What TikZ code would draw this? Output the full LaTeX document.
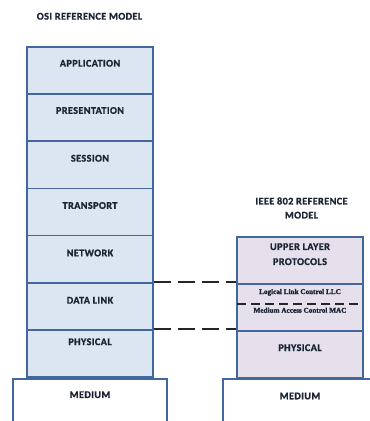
\documentclass[tikz,border=0pt]{standalone}
\usepackage{fontspec}
\setmainfont{Carlito}[LetterSpace=4, BoldFeatures={FakeBold=1.2}]
\newfontfamily\smallserif{Liberation Serif}[BoldFeatures={FakeBold=1.5}]
\definecolor{edge}{HTML}{41679C}
\definecolor{osifill}{HTML}{DCE6F2}
\definecolor{ieeefill}{HTML}{E5E0EC}
\definecolor{ink}{HTML}{1A2433}
\begin{document}
\begin{tikzpicture}[x=1pt,y=-1pt,
  layer/.style={draw=edge, line width=1.6pt, inner sep=0pt, minimum width=126pt},
  osilayer/.style={layer, fill=osifill, minimum height=47.2pt},
  lbl/.style={font=\fontsize{10.2}{11}\selectfont\bfseries, text=ink, inner sep=0pt},
  ttl/.style={font=\fontsize{10.2}{14}\selectfont\bfseries, text=ink, inner sep=0pt, align=center},
  sub/.style={font=\smallserif\fontsize{7.2}{8}\selectfont\bfseries, text=ink, inner sep=0pt},
  linkdash/.style={line width=2.6pt, dash pattern=on 17pt off 7pt, black!85},
  subdash/.style={line width=1.8pt, dash pattern=on 9pt off 5pt, black!85}]
\useasboundingbox (0,0) rectangle (370,421);
\clip (0,0) rectangle (370,421);
\fill[white] (0,0) rectangle (370,421);

% titles
\node[ttl] (osititle) at (89.5,16.3) {OSI REFERENCE MODEL};
\node[ttl] (ieeetitle) at (301.5,208) {IEEE 802 REFERENCE\\MODEL};

% media boxes (running off the bottom edge)
\node[layer, fill=white, minimum width=154pt, minimum height=60pt, anchor=north] (osimed) at (90,378) {};
\node[layer, fill=white, minimum width=160pt, minimum height=60pt, anchor=north west] (ieeemed) at (222,378) {};

% OSI stack
\node[osilayer] (app)  at (90, 70.35) {};
\node[osilayer] (pres) at (90,117.55) {};
\node[osilayer] (sess) at (90,164.75) {};
\node[osilayer] (tran) at (90,211.95) {};
\node[osilayer] (net)  at (90,259.15) {};
\node[osilayer] (dl)   at (90,306.35) {};
\node[osilayer] (phy)  at (90,353.55) {};

\node[lbl] (appt)  at (90, 63.3) {APPLICATION};
\node[lbl] (prest) at (90,110.5) {PRESENTATION};
\node[lbl] (sesst) at (90,158.3) {SESSION};
\node[lbl] (trant) at (90,205.5) {TRANSPORT};
\node[lbl] (nett)  at (90,253.0) {NETWORK};
\node[lbl] (dlt)   at (90,300.3) {DATA LINK};
\node[lbl] (phyt)  at (90,341.8) {PHYSICAL};
\node[lbl] (osimedt) at (90,394.7) {MEDIUM};

% IEEE 802 stack
\node[layer, fill=ieeefill, minimum height=47.2pt] (upper) at (300,260.35) {};
\node[layer, fill=ieeefill, minimum height=47.2pt] (llcmac) at (300,307.55) {};
\node[layer, fill=ieeefill, minimum height=47pt] (iphy) at (300,354.4) {};
\coordinate (macl) at (237,304.3);
\coordinate (macr) at (363,304.3);
\draw[subdash] (macl) -- (macr);

\node[lbl, align=center, font=\fontsize{10.2}{15}\selectfont\bfseries] (uppert) at (300,254.2) {UPPER LAYER\\PROTOCOLS};
\node[sub] (llct) at (300,292.3) {Logical Link Control LLC};
\node[sub] (mact) at (300,310.2) {Medium Access Control MAC};
\node[lbl] (iphyt) at (300,347.7) {PHYSICAL};
\node[lbl] (ieeemedt) at (300,396) {MEDIUM};

% correspondence between the two models
\draw[linkdash] (dl.north east) -- (dl.north east -| llcmac.west);
\draw[linkdash] (phy.north east) -- (phy.north east -| iphy.west);
\end{tikzpicture}
\end{document}
